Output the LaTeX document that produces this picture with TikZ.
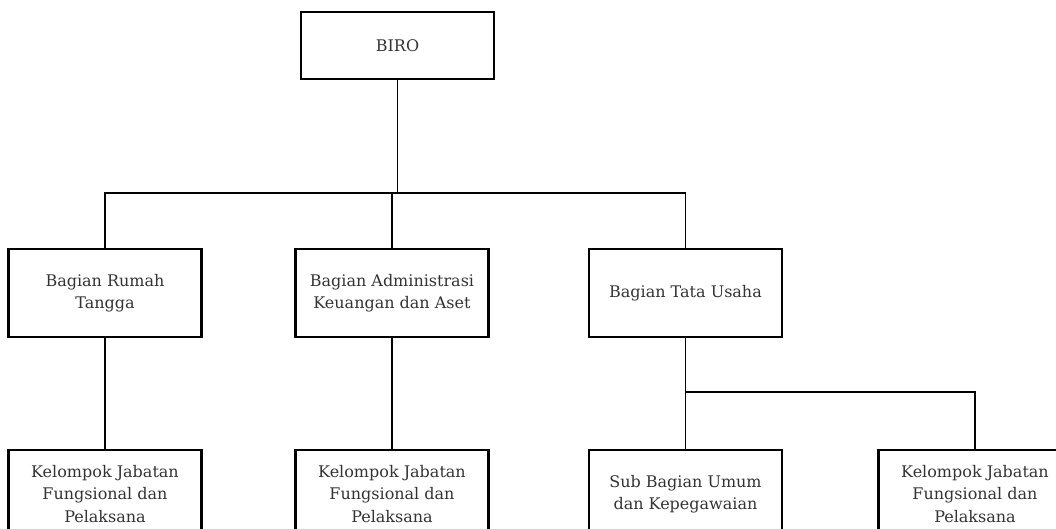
\documentclass[tikz,border=0pt]{standalone}
\usepackage{fontspec}
\setmainfont{DejaVu Serif}
\begin{document}
\begin{tikzpicture}[x=1pt,y=-1pt,
  box/.style={draw=black,line width=2.2pt,minimum width=193pt,minimum height=88pt,inner sep=0pt,align=center,text=black!80,font=\fontsize{16}{22.5}\selectfont},
  conn/.style={draw=black,line width=1.9pt}]
\useasboundingbox (0,0) rectangle (1056,529);
\clip (0,0) rectangle (1056,529);
\node[box,minimum height=67pt] (biro) at (397.5,45.5) {BIRO};
\node[box] (b1) at (105,293) {Bagian Rumah\\Tangga};
\node[box] (b2) at (392,293) {Bagian Administrasi\\Keuangan dan Aset};
\node[box] (b3) at (685.5,293) {Bagian Tata Usaha};
\node[box] (k1) at (105,494) {Kelompok Jabatan\\Fungsional dan\\Pelaksana};
\node[box] (k2) at (392,494) {Kelompok Jabatan\\Fungsional dan\\Pelaksana};
\node[box] (k3) at (685.5,494) {Sub Bagian Umum\\dan Kepegawaian};
\node[box] (k4) at (975,494) {Kelompok Jabatan\\Fungsional dan\\Pelaksana};
\coordinate (j1) at (397.5,193);
\coordinate (j2) at (685.5,392);
\draw[conn] (biro.south) -- (j1);
\draw[conn] (b1.north) |- (j1) -| (b3.north);
\draw[conn] (j1) -| (b2.north);
\draw[conn] (b1.south) -- (k1.north);
\draw[conn] (b2.south) -- (k2.north);
\draw[conn] (b3.south) -- (k3.north);
\draw[conn] (j2) -| (k4.north);
\end{tikzpicture}
\end{document}
